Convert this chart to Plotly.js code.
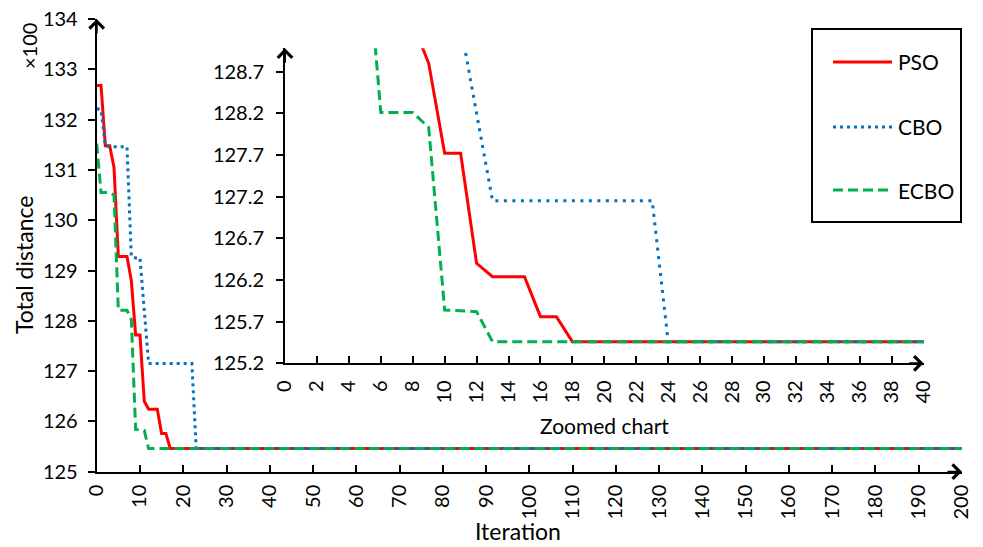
<!DOCTYPE html>
<html>
<head>
<meta charset="utf-8">
<script src="https://cdn.plot.ly/plotly-3.0.1.min.js"></script>
<style>html,body{margin:0;padding:0;background:#fff;}#chart{width:983px;height:547px;}</style>
</head>
<body>
<div id="chart"></div>
<script>
// Iterations at which the readings were taken (the curves stay flat after the last change)
var iterations = [0,1,2,3,4,5,6,7,8,9,10,11,12,13,14,15,16,17,18,19,20,21,22,23,24,200];
// Total distance (x100)
var pso  = [132.68,132.68,131.48,131.48,131.05,129.28,129.28,129.28,128.80,127.72,127.72,126.40,126.24,126.24,126.24,125.76,125.76,125.46,125.46,125.46,125.46,125.46,125.46,125.46,125.46,125.46];
var cbo  = [132.22,132.19,131.48,131.46,131.46,131.46,131.46,131.46,129.28,129.25,129.25,128.20,127.15,127.15,127.15,127.15,127.15,127.15,127.15,127.15,127.15,127.15,127.15,125.46,125.46,125.46];
var ecbo = [131.52,130.55,130.55,130.55,130.50,128.21,128.21,128.21,128.03,125.84,125.83,125.82,125.46,125.46,125.46,125.46,125.46,125.46,125.46,125.46,125.46,125.46,125.46,125.46,125.46,125.46];
var seriesNames = ['PSO','CBO','ECBO'];
// The zoomed chart counts iterations starting from 1
var zoomOffset = 1;
var zoomIterations = iterations.map(function(v){ return v + zoomOffset; });

var mainTicks = [0,10,20,30,40,50,60,70,80,90,100,110,120,130,140,150,160,170,180,190,200];
var mainYTicks = [125,126,127,128,129,130,131,132,133,134];
var zoomXTicks = [0,2,4,6,8,10,12,14,16,18,20,22,24,26,28,30,32,34,36,38,40];
var zoomYTicks = [125.2,125.7,126.2,126.7,127.2,127.7,128.2,128.7];

var W = 983, H = 547;
var FONT = 'Lato, "Open Sans", sans-serif';
var colors = ['#FF0000', '#0070C0', '#00B050'];
var values = [pso, cbo, ecbo];
var mainDash = ['solid', '3px,4px', '10px,5px'];
var zoomDash = ['solid', '3px,5.5px', '10px,5px'];

function px(x){ return x / W; }
function py(y){ return 1 - y / H; }

var traces = [];
for (var i = 0; i < 3; i++) {
  traces.push({x: iterations, y: values[i], xaxis: 'x', yaxis: 'y', mode: 'lines', name: seriesNames[i],
    line: {color: colors[i], width: 3, dash: mainDash[i]}, showlegend: false, hoverinfo: 'skip'});
}
for (var j = 0; j < 3; j++) {
  traces.push({x: zoomIterations, y: values[j], xaxis: 'x2', yaxis: 'y2', mode: 'lines', name: seriesNames[j],
    line: {color: colors[j], width: 3, dash: zoomDash[j]}, showlegend: false, hoverinfo: 'skip'});
}

function axisBase() {
  return {showline: true, linewidth: 2, linecolor: '#000', showgrid: false, zeroline: false,
    tickcolor: '#000', tickwidth: 2, ticklen: 7, tickfont: {family: FONT, size: 20, color: '#000'},
    automargin: false, fixedrange: true};
}

var xa = axisBase();
Object.assign(xa, {domain: [px(96.7), px(962)], range: [0, 200], tickmode: 'array', tickvals: mainTicks,
  ticktext: mainTicks.map(String), ticks: 'inside', tickangle: -90, anchor: 'y', ticklabelstandoff: 3});
var ya = axisBase();
Object.assign(ya, {domain: [py(471.7), py(19)], range: [125, 134], tickmode: 'array', tickvals: mainYTicks,
  ticktext: mainYTicks.map(String), ticks: 'outside', anchor: 'x', ticklabelstandoff: 6});
var xa2 = axisBase();
Object.assign(xa2, {domain: [px(285), px(923.6)], range: [0, 40], tickmode: 'array', tickvals: zoomXTicks,
  ticktext: zoomXTicks.map(String), ticks: 'inside', tickangle: -90, anchor: 'y2', ticklabelstandoff: 7});
var ya2 = axisBase();
Object.assign(ya2, {domain: [py(363.3), py(48.3)], range: [125.2, 128.98], tickmode: 'array', tickvals: zoomYTicks,
  ticktext: zoomYTicks.map(function(v){ return v.toFixed(1); }), ticks: 'outside', anchor: 'x2', ticklabelstandoff: 8});

function arrow(xref, yref, x, y, ax, ay) {
  return {xref: xref, yref: yref, x: x, y: y, ax: ax, ay: ay, text: '', showarrow: true,
    arrowhead: 4, arrowsize: 1.4, arrowwidth: 2, arrowcolor: '#000', standoff: 0};
}
function label(text, x, y, size, angle, align) {
  return {xref: 'paper', yref: 'paper', x: px(x), y: py(y), text: text, showarrow: false,
    textangle: angle || 0, xanchor: align || 'center', yanchor: 'middle',
    font: {family: FONT, size: size, color: '#000'}};
}

var legendY = [62, 127, 190];
var shapes = [{type: 'rect', xref: 'paper', yref: 'paper', x0: px(812), x1: px(961), y0: py(29), y1: py(222),
  line: {color: '#000', width: 2}, fillcolor: '#fff', layer: 'above'}];
var annotations = [
  arrow('x', 'y', 0, 134, 0, 16),
  arrow('x', 'y', 200, 125, -16, 0),
  arrow('x2', 'y2', 0, 128.98, 0, 16),
  arrow('x2', 'y2', 40, 125.2, -16, 0),
  label('Total distance', 24, 265, 23, -90),
  label('×100', 29, 46, 20, -90),
  label('Iteration', 518, 531, 23, 0),
  label('Zoomed chart', 604, 425, 21, 0)
];
for (var k = 0; k < 3; k++) {
  shapes.push({type: 'line', xref: 'paper', yref: 'paper', x0: px(833), x1: px(892), y0: py(legendY[k]), y1: py(legendY[k]),
    line: {color: colors[k], width: 3, dash: mainDash[k]}, layer: 'above'});
  annotations.push(label(seriesNames[k], 896, legendY[k], 21, 0, 'left'));
}

var layout = {
  width: W, height: H, margin: {l: 0, r: 0, t: 0, b: 0}, paper_bgcolor: '#fff', plot_bgcolor: 'rgba(0,0,0,0)',
  showlegend: false, xaxis: xa, yaxis: ya, xaxis2: xa2, yaxis2: ya2,
  shapes: shapes, annotations: annotations, font: {family: FONT, color: '#000'}
};
Plotly.newPlot('chart', traces, layout, {displayModeBar: false, staticPlot: true});
</script>
</body>
</html>
